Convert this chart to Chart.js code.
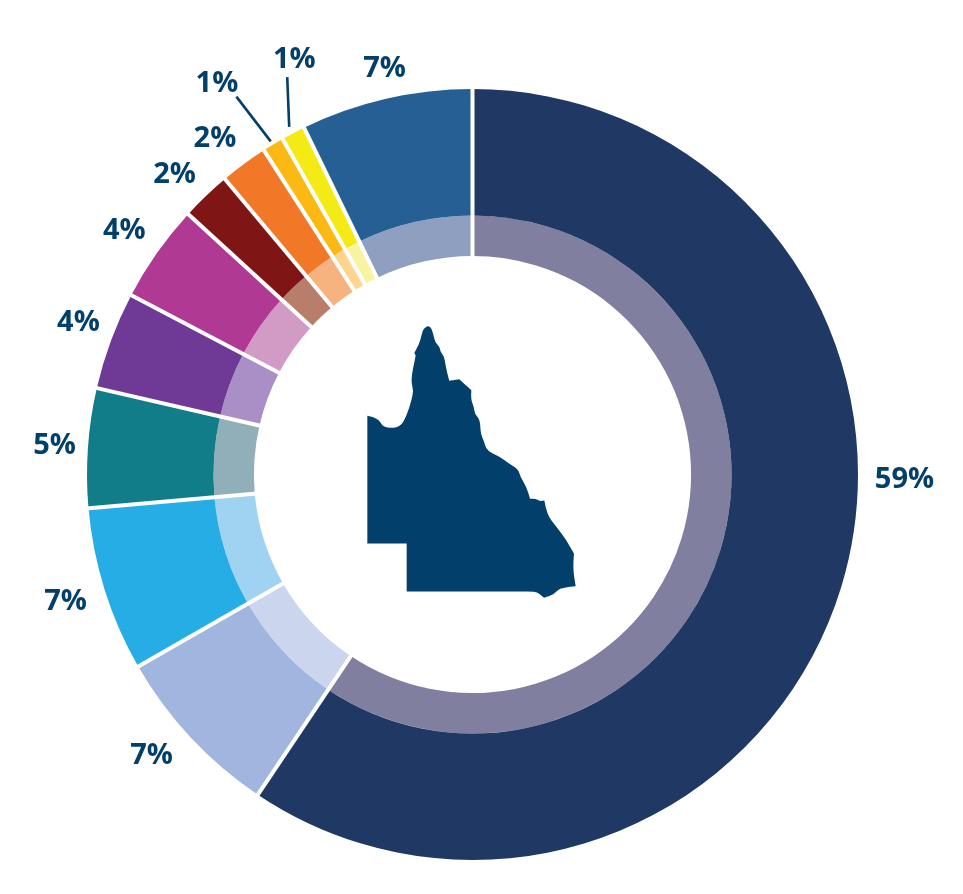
<!DOCTYPE html>
<html><head><meta charset="utf-8">
<style>html,body{margin:0;padding:0;background:#fff}#w{position:absolute;left:0;top:0;width:963px;height:894px}</style>
<script src="https://cdn.jsdelivr.net/npm/chart.js@4"></script>
</head><body><div id="w"><canvas id="c" width="963" height="894"></canvas></div>
<script>
const categories = ['A','B','C','D','E','F','G','H','I','J','K'];
const values = [59.4,7.3,6.9,5.0,4.1,4.1,2.1,2.0,0.9,1.0,7.2];
const tickLabels = ['59%','7%','7%','5%','4%','4%','2%','2%','1%','1%','7%'];
const outerColors = ['#203864','#A0B6DE','#27ADE6','#107D88','#6E3A96','#B03A93','#801515','#F07826','#FDB913','#F4EB16','#265F94'];
const innerColors = ['#807F9F','#CBD5EE','#A0D2F2','#90AFB8','#A98FC5','#D29BC5','#B87D6B','#F6B380','#FDD58C','#F8F3A0','#8E9FC0'];
const labelAngles = [90.5,228.9,252.8,274.1,291.2,305.1,315.3,322.6,326.9,336.8,347.8];
const labelRadii = [432,426,426,419,422.7,425.6,423.6,424,468,452.5,416];
const leaderAngles = [null,null,null,null,null,null,null,null,[328,328.8],[335,332.2],null];
const leaderRadii = [null,null,null,null,null,null,null,null,[445.6,389.5],[438.4,393],null];
const outlineOrigin = [122.5,164];
const outline = [[52,316],[70,320],[88,329],[95,343],[108,351],[130,352],[148,348],[160,335],[172,308],[183,275],[191,240],[184,220],[186,190],[192,160],[197,135],[193,127],[205,105],[212,85],[218,60],[226,50],[236,46],[245,55],[250,72],[256,97],[270,110],[270,122],[282,137],[286,160],[292,190],[298,211],[328,206],[345,222],[364,239],[362,265],[372,290],[374,310],[390,328],[392,370],[402,392],[408,415],[425,428],[450,439],[475,458],[505,477],[510,497],[530,530],[540,565],[555,563],[570,572],[583,570],[590,612],[620,650],[650,690],[672,730],[668,770],[677,827],[640,830],[622,840],[610,852],[582,862],[570,850],[555,843],[510,843],[170,843],[170,699],[52,699]];
const sharpPoints = [14,15,29,30,32,46,49,53,55,59,62,63,64,65,66];

const annot = {
  id:'annot',
  afterDraw(chart){
    const ctx = chart.ctx, arcs = chart.getDatasetMeta(0).data, a = arcs[0];
    const inner = chart.getDatasetMeta(1).data[0].innerRadius, outer = a.outerRadius;
    const cx = a.x, cy = a.y;
    const pol = (deg,r)=>{const t=deg*Math.PI/180;return [cx+r*Math.sin(t),cy-r*Math.cos(t)];};
    ctx.save();
    ctx.strokeStyle='#fff';ctx.lineWidth=4;
    arcs.forEach(el=>{
      const t=el.startAngle;
      ctx.beginPath();
      ctx.moveTo(cx+(inner-2)*Math.cos(t),cy+(inner-2)*Math.sin(t));
      ctx.lineTo(cx+(outer+2)*Math.cos(t),cy+(outer+2)*Math.sin(t));
      ctx.stroke();
    });
    const pt=p=>[cx+p[0]/3-outlineOrigin[0],cy+p[1]/3-outlineOrigin[1]];
    ctx.fillStyle='#033F6B';
    ctx.beginPath();
    const s0=pt(outline[0]);ctx.moveTo(s0[0],s0[1]);
    for(let i=1;i<outline.length;i++){
      const p=pt(outline[i]);
      if(sharpPoints.includes(i)||i===outline.length-1){ctx.lineTo(p[0],p[1]);continue;}
      const n=pt(outline[i+1]);
      ctx.quadraticCurveTo(p[0],p[1],(p[0]+n[0])/2,(p[1]+n[1])/2);
    }
    ctx.closePath();ctx.fill();
    ctx.font='bold 29px "Open Sans"';
    ctx.textAlign='center';ctx.textBaseline='middle';
    tickLabels.forEach((t,i)=>{const p=pol(labelAngles[i],labelRadii[i]);ctx.fillText(t,p[0],p[1]+1);});
    ctx.strokeStyle='#033F6B';ctx.lineWidth=2.6;
    leaderAngles.forEach((l,i)=>{ if(!l) return;
      const s=pol(l[0],leaderRadii[i][0]),e=pol(l[1],leaderRadii[i][1]);
      ctx.beginPath();ctx.moveTo(s[0],s[1]);ctx.lineTo(e[0],e[1]);ctx.stroke();});
    ctx.restore();
  }
};
new Chart(document.getElementById('c'),{
  type:'doughnut',
  data:{labels:categories,datasets:[
    {data:values,backgroundColor:outerColors,weight:126.5,borderWidth:0},
    {data:values,backgroundColor:innerColors,weight:40.5,borderWidth:0}
  ]},
  options:{
    responsive:false,animation:false,
    cutout:'56.7%',
    layout:{padding:{left:87,right:105,top:88.5,bottom:33.5}},
    plugins:{legend:{display:false},tooltip:{enabled:false},title:{display:false}}
  },
  plugins:[annot]
});
</script></body></html>
